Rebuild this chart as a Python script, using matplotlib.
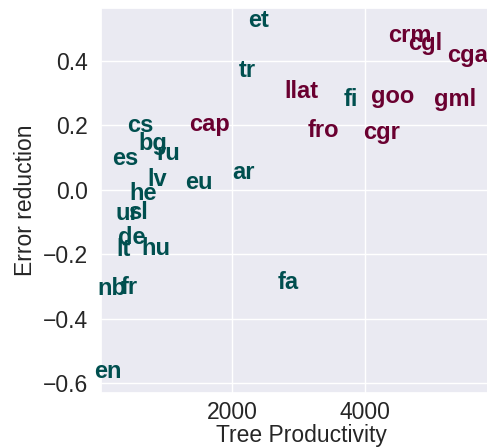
import matplotlib
matplotlib.use("Agg")
import matplotlib.pyplot as plt
import seaborn as sns

# Data
teal_labels = ["et", "tr", "cs", "bg", "ru", "es", "lv", "eu", "ar", "he", "ur", "sl",
               "de", "lt", "hu", "nb", "fr", "fa", "en", "fi"]
teal_x = [2406, 2226, 617, 812, 1038, 391, 872, 1504, 2180, 662, 421, 586,
          496, 376, 857, 195, 451, 2842, 135, 3789]
teal_y = [0.527, 0.372, 0.200, 0.143, 0.112, 0.096, 0.031, 0.022, 0.053, -0.012, -0.074, -0.071,
          -0.149, -0.186, -0.183, -0.307, -0.304, -0.288, -0.564, 0.282]

maroon_labels = ["cap", "llat", "goo", "gml", "fro", "cgr", "crm", "cgl", "cga"]
maroon_x = [1669, 3053, 4421, 5353, 3383, 4256, 4677, 4902, 5549]
maroon_y = [0.202, 0.307, 0.291, 0.282, 0.183, 0.177, 0.481, 0.456, 0.416]

x_ticks = [2000, 4000]
y_ticks = [-0.6, -0.4, -0.2, 0.0, 0.2, 0.4]

sns.set_theme(style="darkgrid")
plt.rcParams['font.family'] = ['Liberation Sans', 'DejaVu Sans']

fig = plt.figure(figsize=(4.87, 4.48), dpi=100)
ax = fig.add_axes([101/487, 55/448, 400/487, 385/448])

teal = "#004f4f"
maroon = "#6a0030"

for lab, x, y in zip(teal_labels, teal_x, teal_y):
    ax.text(x, y, lab, color=teal, fontsize=17, fontweight="bold",
            ha="center", va="center")
for lab, x, y in zip(maroon_labels, maroon_x, maroon_y):
    ax.text(x, y, lab, color=maroon, fontsize=17, fontweight="bold",
            ha="center", va="center")

ax.set_xlim(30, 6050)
ax.set_ylim(-0.631, 0.565)
ax.set_xticks(x_ticks)
ax.set_yticks(y_ticks)
ax.tick_params(axis="x", labelsize=16.5, colors="#262626", pad=0)
ax.tick_params(axis="y", labelsize=16.5, colors="#262626")
ax.set_xlabel("Tree Productivity", fontsize=16.5, color="#262626", labelpad=0)
ax.set_ylabel("Error reduction", fontsize=16.5, color="#262626")

fig.savefig("out.png", dpi=100)
